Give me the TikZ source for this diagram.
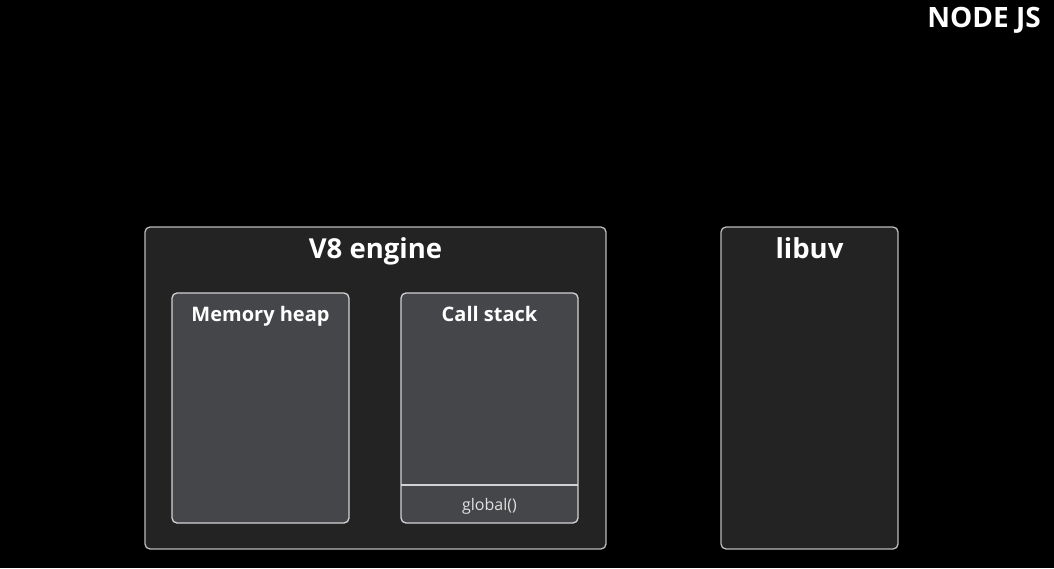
\documentclass[tikz,border=0pt]{standalone}
\usepackage{fontspec}
\setmainfont{Open Sans}
\begin{document}
\begin{tikzpicture}[x=1pt,y=-1pt,
  outerbox/.style={draw=outerline,fill=outerfill,line width=1.3pt,rounded corners=5pt},
  innerbox/.style={draw=innerline,fill=innerfill,line width=1.3pt,rounded corners=5pt},
  bigtitle/.style={text=white,font=\fontsize{27.5}{30}\selectfont\bfseries,inner sep=0pt,anchor=base},
  smalltitle/.style={text=white,font=\fontsize{20}{24}\selectfont\bfseries,inner sep=0pt,anchor=base},
  label/.style={text=white!88!black,font=\fontsize{16}{19}\selectfont,inner sep=0pt,anchor=base}]
\definecolor{outerfill}{HTML}{232323}
\definecolor{outerline}{HTML}{BBBBBB}
\definecolor{innerfill}{HTML}{45464A}
\definecolor{innerline}{HTML}{D2D2D2}
\fill[black] (0,0) rectangle (1054,568);
\useasboundingbox (0,0) rectangle (1054,568);
\node[text=white,font=\fontsize{28}{31}\selectfont\bfseries,inner sep=0pt,anchor=base east] (nodejs) at (1041,27) {NODE JS};
% V8 engine
\draw[outerbox] (145,227) rectangle (606,549);
\node[bigtitle] (v8) at (375.5,258) {V8 engine};
% libuv
\draw[outerbox] (721,227) rectangle (898,549);
\node[bigtitle] (libuv) at (809.5,258) {libuv};
% memory heap
\draw[innerbox] (172,293) rectangle (349,523);
\node[smalltitle] (heap) at (260.5,321) {Memory heap};
% call stack
\draw[innerbox] (401,293) rectangle (578,523);
\node[smalltitle] (stack) at (489.5,321) {Call stack};
\coordinate (divl) at (401,485);
\coordinate (divr) at (578,485);
\draw[innerline,line width=1.3pt] (divl) -- (divr);
\node[label] (global) at (489.5,510.5) {global()};
\end{tikzpicture}
\end{document}
